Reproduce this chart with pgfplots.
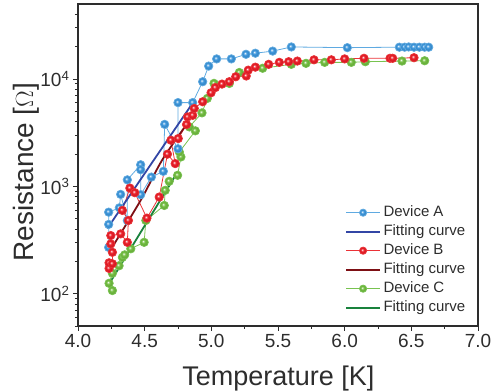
\documentclass[border=0pt]{standalone}
\usepackage{fontspec}
\setmainfont{Liberation Sans}
\usepackage{pgfplots}
\pgfplotsset{compat=1.18}
\makeatletter
\pgfdeclareradialshading[tikz@ball]{ball}{\pgfqpoint{-7bp}{7bp}}{color(0bp)=(white); color(3bp)=(tikz@ball!45!white); color(11bp)=(tikz@ball); color(25bp)=(tikz@ball!85!black); color(50bp)=(tikz@ball!70!black)}
\makeatother
\definecolor{cAline}{RGB}{95,170,225}
\definecolor{cAmark}{RGB}{60,150,220}
\definecolor{cBline}{RGB}{235,50,55}
\definecolor{cBmark}{RGB}{235,30,40}
\definecolor{cCline}{RGB}{120,195,80}
\definecolor{cCmark}{RGB}{115,190,65}
\definecolor{fitA}{RGB}{50,70,165}
\definecolor{fitB}{RGB}{125,15,20}
\definecolor{fitC}{RGB}{25,130,60}
\definecolor{axc}{RGB}{45,45,45}
\begin{document}
\begin{tikzpicture}
\useasboundingbox (-78pt,-65pt) rectangle (416pt,326pt);
\begin{axis}[
  at={(0,0)}, anchor=south west,
  scale only axis, width=400pt, height=322pt,
  xmin=4, xmax=7, ymode=log, ymin=50, ymax=50000,
  xtick={4,4.5,...,7}, minor x tick num=1,
  ytick={100,1000,10000},
  yticklabels={10\textsuperscript{2},10\textsuperscript{3},10\textsuperscript{4}},
  minor ytick={50,60,70,80,90,200,300,400,500,600,700,800,900,2000,3000,4000,5000,6000,7000,8000,9000,20000,30000,40000},
  xticklabel style={/pgf/number format/.cd,fixed,fixed zerofill,precision=1},
  /pgf/number format/assume math mode=true,
  tick align=outside, xtick pos=bottom, ytick pos=left,
  major tick length=5pt, minor tick length=3pt,
  every tick/.style={axc, line width=0.9pt},
  axis line style={axc, line width=1.2pt},
  tick label style={font=\fontsize{19}{22}\selectfont, text=axc},
  xlabel={Temperature [K]}, ylabel={Resistance [$\Omega$]},
  xlabel style={font=\fontsize{27}{32}\selectfont, text=axc, at={(axis description cs:0.501,-0.186)}, anchor=base},
  ylabel style={font=\fontsize{28}{32}\selectfont, text=axc, at={(axis description cs:-0.112,0.478)}, anchor=base},
  legend style={draw=none, fill=none, font=\fontsize{15}{18}\selectfont, text=axc,
    at={(axis description cs:0.6675,0.382)}, anchor=north west, inner sep=0pt,
    row sep=0pt,
    nodes={inner xsep=2.5pt, inner ysep=2.25pt, text height=11pt, text depth=3.5pt}},
  legend cell align=left,
  legend image code/.code={\draw[mark repeat=2,mark phase=2,#1] plot coordinates {(0pt,0pt) (17pt,0pt) (34pt,0pt)};},
]
\addlegendimage{cAline, line width=0.8pt, mark=ball, mark size=3.6pt, mark options={ball color=cAmark}}
\addlegendentry{Device A}
\addlegendimage{fitA, line width=1.8pt, no marks}
\addlegendentry{Fitting curve}
\addlegendimage{cBline, line width=0.8pt, mark=ball, mark size=3.6pt, mark options={ball color=cBmark}}
\addlegendentry{Device B}
\addlegendimage{fitB, line width=1.8pt, no marks}
\addlegendentry{Fitting curve}
\addlegendimage{cCline, line width=0.8pt, mark=ball, mark size=3.6pt, mark options={ball color=cCmark}}
\addlegendentry{Device C}
\addlegendimage{fitC, line width=1.8pt, no marks}
\addlegendentry{Fitting curve}

% Device C
\addplot[forget plot, cCline, line width=0.8pt, mark=ball, mark size=4.2pt, mark options={ball color=cCmark}] coordinates {
(4.258,107)(4.233,125)(4.258,155)(4.308,182)(4.333,218)(4.35,230)(4.396,262)(4.496,301)(4.509,481)(4.647,664)(4.654,918)(4.684,1114)(4.747,1268)(4.772,1880)(4.76,2090)(4.88,3290)(4.835,3580)(4.93,4840)(4.97,6600)(5.02,9110)(5.135,9100)(5.21,11500)(5.385,12600)(5.60,13700)(5.71,14000)(5.85,14300)(6.05,14300)(6.155,14500)(6.43,14700)(6.60,14800)
};
% Device A
\addplot[forget plot, cAline, line width=0.8pt, mark=ball, mark size=4.2pt, mark options={ball color=cAmark}] coordinates {
(4.23,270)(4.23,442)(4.23,575)(4.31,631)(4.32,842)(4.37,480)(4.37,1150)(4.47,1590)(4.47,1430)(4.47,836)(4.55,1220)(4.64,1380)(4.65,3780)(4.75,2240)(4.75,6030)(4.86,6030)(4.935,9440)(4.98,13200)(5.04,15400)(5.15,15400)(5.26,17000)(5.33,17400)(5.46,18200)(5.60,19900)(6.02,19600)(6.41,19800)(6.45,19800)(6.48,19900)(6.52,19800)(6.56,19800)(6.60,19800)(6.63,19800)
};
% Device B
\addplot[forget plot, cBline, line width=0.8pt, mark=ball, mark size=4.2pt, mark options={ball color=cBmark}] coordinates {
(4.233,172)(4.233,194)(4.258,190)(4.258,243)(4.246,291)(4.246,348)(4.32,361)(4.37,301)(4.378,481)(4.333,597)(4.389,964)(4.426,873)(4.517,506)(4.609,795)(4.671,1995)(4.729,1630)(4.697,2690)(4.752,2790)(4.814,3770)(4.822,4440)(4.86,4590)(4.872,5320)(4.935,6140)(4.998,7450)(5.03,8320)(5.08,8970)(5.135,9440)(5.183,10500)(5.262,10670)(5.277,12100)(5.33,12900)(5.43,13700)(5.51,14300)(5.58,14500)(5.645,14700)(5.77,15100)(5.9,15100)(6.0,15400)(6.145,15600)(6.34,15600)(6.36,15600)(6.52,15800)
};
% Fits
\addplot[forget plot, fitA, line width=1.8pt, no marks] coordinates {(4.22,405)(4.54,1560)(4.86,5970)};
\addplot[forget plot, fitB, line width=1.8pt, no marks, smooth] coordinates {(4.233,243)(4.47,741)(4.63,1750)(4.81,3715)};
\addplot[forget plot, fitC, line width=1.8pt, no marks] coordinates {(4.233,123)(4.49,410)(4.747,1360)};
\end{axis}
\end{tikzpicture}
\end{document}
